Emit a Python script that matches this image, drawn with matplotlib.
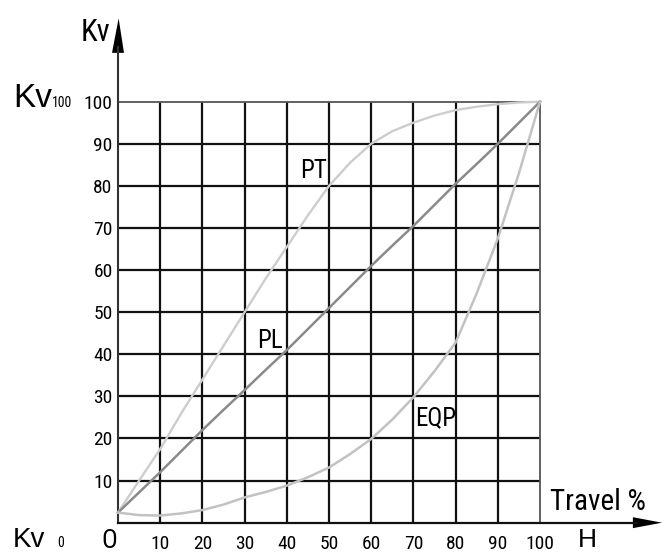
import matplotlib
matplotlib.use("Agg")
import matplotlib.pyplot as plt
from matplotlib.patches import Polygon

# ---- data ----
travel = [0, 5, 10, 15, 20, 25, 30, 35, 40, 45, 50, 55, 60, 65, 70, 75, 80, 85, 90, 95, 100]
pt_vals = [2.4, 10, 17.5, 26, 34, 42, 50, 58, 65.5, 73, 80, 85.5, 90, 93, 95, 96.7, 98, 98.8, 99.4, 99.8, 100]
pl_vals = [2.4, 7.2, 12, 17, 22, 26.8, 31.5, 36.3, 41, 46, 51, 56, 61, 65.8, 70.5, 75.5, 80.5, 85.2, 90, 95, 100]
eqp_vals = [2.4, 1.8, 1.7, 2.2, 3, 4.3, 6, 7.3, 8.8, 10.8, 13.1, 16.3, 19.9, 24.5, 29.8, 36, 42.8, 54.5, 67.5, 83, 100]
grid_ticks = [10, 20, 30, 40, 50, 60, 70, 80, 90, 100]
tick_labels = ["10", "20", "30", "40", "50", "60", "70", "80", "90", "100"]
curve_names = ["PT", "PL", "EQP"]

NARROW = ["Roboto Condensed", "DejaVu Sans"]
REG = ["Liberation Sans", "DejaVu Sans"]

fig = plt.figure(figsize=(6.62, 5.53), dpi=100)
ax = fig.add_axes([0, 0, 1, 1])
ax.set_xlim(-27.96, 128.9)
ax.set_ylim(-7.2, 124.15)
ax.axis("off")

# grid
lc = "#111111"
for v in grid_ticks[:-1]:
    ax.plot([v, v], [0, 100], color=lc, lw=1.6, solid_capstyle="butt")
    ax.plot([0, 100], [v, v], color=lc, lw=1.6, solid_capstyle="butt")
ax.plot([0, 100], [100, 100], color="#555555", lw=1.3)
ax.plot([100, 100], [0, 100], color="#555555", lw=1.3)
# axes with arrows
ax.plot([0, 0], [0, 113], color="#333333", lw=1.5)
ax.plot([0, 123], [0, 0], color=lc, lw=1.6)
ax.add_patch(Polygon([[-1.42, 111.6], [1.42, 111.6], [0.15, 119.8]], closed=True,
                     color="black", lw=0))
ax.add_patch(Polygon([[122, 1.3], [122, -1.3], [128.9, 0]], closed=True,
                     color="black", lw=0, clip_on=False))

# curves
ax.plot(travel, pt_vals, color="#cdcdcd", lw=1.7, zorder=3)
ax.plot(travel, pl_vals, color="#8a8a8a", lw=1.8, zorder=3)
ax.plot(travel, eqp_vals, color="#c2c2c2", lw=1.8, zorder=3)

# curve labels
ax.text(43.1, 81.8, curve_names[0], family=NARROW, fontsize=18, ha="left", va="baseline", zorder=4)
ax.text(32.9, 41.5, curve_names[1], family=NARROW, fontsize=18, ha="left", va="baseline", zorder=4)
ax.text(70.4, 23.1, curve_names[2], family=NARROW, fontsize=18, ha="left", va="baseline", zorder=4)

# tick labels
for v, s in zip(grid_ticks, tick_labels):
    ax.text(-1.3, v, s, family=NARROW, fontsize=14, ha="right", va="center_baseline")
    ax.text(v, -4.6, s, family=NARROW, fontsize=14, ha="center", va="center_baseline")
ax.text(-2.1, -6.1, "O", family=NARROW, fontsize=19, ha="center", va="baseline")

# axis titles
ax.text(-1.9, 117.2, "Kv", family=NARROW, fontsize=22, ha="right", va="center_baseline")
ax.text(-24.9, 98.7, "Kv", family=REG, fontsize=24, ha="left", va="baseline")
ax.text(-15.6, 98.7, "100", family=NARROW, fontsize=10, ha="left", va="baseline")
ax.text(-24.9, -5.8, "Kv", family=REG, fontsize=20, ha="left", va="baseline")
ax.text(-14.4, -5.8, "0", family=NARROW, fontsize=10, ha="left", va="baseline")
ax.text(111.1, -5.8, "H", family=REG, fontsize=19, ha="center", va="baseline")
ax.text(102.4, 3.0, "Travel %", family=NARROW, fontsize=21, ha="left", va="baseline")

fig.savefig("out.png", dpi=100)
